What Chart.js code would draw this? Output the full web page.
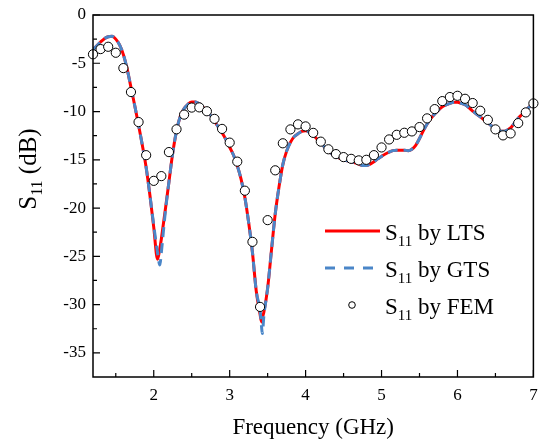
<!DOCTYPE html>
<html><head><meta charset="utf-8">
<script src="https://cdn.jsdelivr.net/npm/chart.js@4"></script>
<style>html,body{margin:0;padding:0;background:#fff}</style>
</head><body>
<canvas id="c" width="539" height="442" style="display:block;width:539px;height:442px"></canvas>
<script>
// ---- data ----
const lineFreq = [1.2,1.25,1.3,1.35,1.4,1.45,1.5,1.55,1.6,1.65,
 1.7,1.75,1.8,1.85,1.9,1.95,2.0,2.05,2.08,2.1,
 2.15,2.2,2.25,2.3,2.35,2.4,2.45,2.5,2.55,2.6,
 2.65,2.7,2.75,2.8,2.85,2.9,2.95,3.0,3.05,3.1,
 3.15,3.2,3.25,3.3,3.35,3.4,3.42,3.43,3.45,3.5,
 3.55,3.6,3.65,3.7,3.75,3.8,3.85,3.9,3.95,4.0,
 4.05,4.1,4.15,4.2,4.25,4.3,4.35,4.4,4.45,4.5,
 4.55,4.6,4.65,4.7,4.75,4.8,4.85,4.9,4.95,5.0,
 5.05,5.1,5.15,5.2,5.25,5.3,5.35,5.4,5.45,5.5,
 5.55,5.6,5.65,5.7,5.75,5.8,5.85,5.9,5.95,6.0,
 6.05,6.1,6.15,6.2,6.25,6.3,6.35,6.4,6.45,6.5,
 6.55,6.6,6.65,6.7,6.75,6.8,6.85,6.9,6.95,7.0];
const ltsS11 = [-3.6,-3.2,-2.8,-2.45,-2.25,-2.2,-2.5,-3.1,-4.1,-5.6,
 -7.5,-9.4,-11.4,-13.5,-15.8,-18.7,-22.0,-25.3,-24.2,-23.2,
 -20.3,-17.3,-14.3,-12.0,-10.5,-9.7,-9.25,-9.0,-9.0,-9.2,
 -9.55,-10.0,-10.4,-11.0,-11.6,-12.2,-12.9,-13.7,-14.5,-15.6,
 -17.0,-18.9,-21.5,-24.6,-28.6,-31.0,-31.8,-31.4,-30.8,-28.3,
 -24.4,-20.6,-17.8,-15.5,-14.1,-13.2,-12.6,-12.3,-12.05,-12.0,
 -12.15,-12.45,-12.85,-13.2,-13.7,-14.1,-14.4,-14.65,-14.85,-15.0,
 -15.1,-15.2,-15.3,-15.45,-15.6,-15.6,-15.45,-15.2,-14.9,-14.65,
 -14.4,-14.2,-14.05,-14.0,-14.0,-14.0,-14.05,-13.9,-13.5,-12.8,
 -12.0,-11.3,-10.7,-10.25,-9.85,-9.5,-9.3,-9.15,-9.05,-9.05,
 -9.15,-9.3,-9.6,-9.95,-10.25,-10.55,-10.85,-11.15,-11.5,-11.8,
 -12.0,-12.05,-11.95,-11.7,-11.2,-10.7,-10.3,-9.9,-9.5,-9.2];
const gtsS11 = [-3.6,-3.2,-2.8,-2.45,-2.25,-2.2,-2.5,-3.1,-4.1,-5.6,
 -7.5,-9.4,-11.4,-13.5,-15.8,-18.7,-21.8,-24.6,-25.9,-24.6,
 -20.6,-17.3,-14.3,-12.0,-10.5,-9.7,-9.25,-9.0,-9.0,-9.2,
 -9.55,-10.0,-10.4,-11.0,-11.6,-12.2,-12.9,-13.7,-14.5,-15.6,
 -17.0,-18.9,-21.5,-24.6,-28.6,-30.6,-32.3,-33.0,-31.2,-28.3,
 -24.4,-20.6,-17.8,-15.5,-14.1,-13.2,-12.6,-12.3,-12.05,-12.0,
 -12.15,-12.45,-12.85,-13.2,-13.7,-14.1,-14.4,-14.65,-14.85,-15.0,
 -15.1,-15.2,-15.3,-15.45,-15.6,-15.6,-15.45,-15.2,-14.9,-14.65,
 -14.4,-14.2,-14.05,-14.0,-14.0,-14.0,-14.05,-13.9,-13.5,-12.8,
 -12.0,-11.3,-10.7,-10.25,-9.85,-9.5,-9.3,-9.15,-9.05,-9.05,
 -9.15,-9.3,-9.6,-9.95,-10.25,-10.55,-10.85,-11.15,-11.5,-11.8,
 -12.0,-12.05,-11.95,-11.7,-11.2,-10.7,-10.3,-9.9,-9.5,-9.2];
const femFreq = [1.2,1.3,1.4,1.5,1.6,1.7,1.8,1.9,2.0,2.1,
 2.2,2.3,2.4,2.5,2.6,2.7,2.8,2.9,3.0,3.1,
 3.2,3.3,3.4,3.5,3.6,3.7,3.8,3.9,4.0,4.1,
 4.2,4.3,4.4,4.5,4.6,4.7,4.8,4.9,5.0,5.1,
 5.2,5.3,5.4,5.5,5.6,5.7,5.8,5.9,6.0,6.1,
 6.2,6.3,6.4,6.5,6.6,6.7,6.8,6.9,7.0];
const femS11 = [-4.07,-3.53,-3.29,-3.91,-5.50,-7.98,-11.09,-14.52,-17.18,-16.69,
 -14.20,-11.84,-10.32,-9.59,-9.57,-9.97,-10.76,-11.80,-13.22,-15.19,
 -18.20,-23.50,-30.24,-21.25,-16.09,-13.29,-11.85,-11.33,-11.54,-12.21,
 -13.12,-13.91,-14.41,-14.72,-14.90,-15.06,-15.00,-14.52,-13.72,-12.89,
 -12.41,-12.20,-12.06,-11.61,-10.71,-9.75,-8.92,-8.50,-8.37,-8.68,
 -9.12,-9.92,-10.86,-11.85,-12.47,-12.27,-11.20,-10.09,-9.16];
const xTickValues = [2,3,4,5,6,7];
const xMinorValues = [1.5,2.5,3.5,4.5,5.5,6.5];
const yTickValues = [0,-5,-10,-15,-20,-25,-30,-35];
const yMinorValues = [-2.5,-7.5,-12.5,-17.5,-22.5,-27.5,-32.5];
const seriesNames = ['by LTS','by GTS','by FEM'];
const xTitle = 'Frequency (GHz)';

const FONT = "'Liberation Serif','Times New Roman',serif";
const RED = '#ff0000', BLUE = '#4a86c8';

const deco = {
  id: 'deco',
  afterDraw(chart) {
    const ctx = chart.ctx, ca = chart.chartArea;
    const xs = chart.scales.x, ys = chart.scales.y;
    ctx.save();
    ctx.strokeStyle = '#000';
    ctx.lineWidth = 1.5;
    ctx.strokeRect(ca.left, ca.top, ca.right - ca.left, ca.bottom - ca.top);
    ctx.lineWidth = 1.2;
    ctx.beginPath();
    xTickValues.forEach(v => { const p = xs.getPixelForValue(v); ctx.moveTo(p, ca.bottom); ctx.lineTo(p, ca.bottom - 7); });
    xMinorValues.forEach(v => { const p = xs.getPixelForValue(v); ctx.moveTo(p, ca.bottom); ctx.lineTo(p, ca.bottom - 4); });
    yTickValues.forEach(v => { const p = ys.getPixelForValue(v); ctx.moveTo(ca.left, p); ctx.lineTo(ca.left + 7, p); });
    yMinorValues.forEach(v => { const p = ys.getPixelForValue(v); ctx.moveTo(ca.left, p); ctx.lineTo(ca.left + 4, p); });
    ctx.stroke();

    // x title
    ctx.fillStyle = '#000';
    ctx.font = '23px ' + FONT;
    ctx.textAlign = 'center';
    ctx.textBaseline = 'alphabetic';
    ctx.fillText(xTitle, (ca.left + ca.right) / 2, 434);

    // S11 text with subscript
    function drawS11(x, y, big, small, rest) {
      ctx.textAlign = 'left';
      ctx.font = big + 'px ' + FONT;
      ctx.fillText('S', x, y);
      const w1 = ctx.measureText('S').width;
      ctx.font = small + 'px ' + FONT;
      ctx.fillText('11', x + w1, y + small * 0.4);
      const w2 = ctx.measureText('11').width;
      ctx.font = big + 'px ' + FONT;
      ctx.fillText(rest, x + w1 + w2, y);
      return w1 + w2 + ctx.measureText(rest).width;
    }
    ctx.save();
    ctx.translate(36, 169);
    ctx.rotate(-Math.PI / 2);
    ctx.font = '25px ' + FONT;
    const ws = ctx.measureText('S').width + ctx.measureText(' (dB)').width;
    ctx.font = '16px ' + FONT;
    const wt = ws + ctx.measureText('11').width;
    drawS11(-wt / 2, 0, 25, 16, ' (dB)');
    ctx.restore();

    // legend
    const rows = [231, 268, 305];
    ctx.lineWidth = 3;
    ctx.strokeStyle = RED;
    ctx.beginPath(); ctx.moveTo(325, rows[0]); ctx.lineTo(380, rows[0]); ctx.stroke();
    ctx.strokeStyle = BLUE;
    ctx.setLineDash([10, 9]);
    ctx.beginPath(); ctx.moveTo(325, rows[1]); ctx.lineTo(381, rows[1]); ctx.stroke();
    ctx.setLineDash([]);
    ctx.lineWidth = 1;
    ctx.strokeStyle = '#000';
    ctx.fillStyle = '#fff';
    ctx.beginPath(); ctx.arc(352, rows[2], 3.3, 0, Math.PI * 2); ctx.fill(); ctx.stroke();
    ctx.fillStyle = '#000';
    rows.forEach((r, i) => drawS11(385, r + 9, 23, 15, ' ' + seriesNames[i]));
    ctx.restore();
  }
};

new Chart(document.getElementById('c'), {
  type: 'line',
  data: {
    datasets: [
      { label: 'S11 by FEM', data: femFreq.map((x, i) => ({ x, y: femS11[i] })), showLine: false,
        pointRadius: 4.6, pointBackgroundColor: '#fff', pointBorderColor: '#000', pointBorderWidth: 1,
        order: 0, clip: false },
      { label: 'S11 by GTS', data: lineFreq.map((x, i) => ({ x, y: gtsS11[i] })), borderColor: BLUE,
        borderWidth: 3, borderDash: [10, 6], pointRadius: 0, cubicInterpolationMode: 'monotone', fill: false, order: 1 },
      { label: 'S11 by LTS', data: lineFreq.map((x, i) => ({ x, y: ltsS11[i] })), borderColor: RED,
        borderWidth: 3, pointRadius: 0, cubicInterpolationMode: 'monotone', fill: false, order: 2 }
    ]
  },
  options: {
    responsive: false, animation: false, devicePixelRatio: 1,
    layout: { padding: { left: 0, right: 4, top: 15, bottom: 0 } },
    plugins: { legend: { display: false }, tooltip: { enabled: false } },
    scales: {
      x: { type: 'linear', min: 1.2, max: 7,
        grid: { display: false, drawTicks: false }, border: { display: false },
        afterBuildTicks(s) { s.ticks = xTickValues.map(v => ({ value: v })); },
        afterFit(s) { s.height = 65; s.paddingRight = 0; s.paddingLeft = 0; },
        ticks: { padding: 8, color: '#000', maxRotation: 0, autoSkip: false, font: { family: FONT, size: 17 } } },
      y: { type: 'linear', min: -37.5, max: 0,
        grid: { display: false, drawTicks: false }, border: { display: false },
        afterBuildTicks(s) { s.ticks = yTickValues.map(v => ({ value: v })); },
        afterFit(s) { s.width = 93; s.paddingTop = 0; s.paddingBottom = 0; },
        ticks: { padding: 7, color: '#000', autoSkip: false, font: { family: FONT, size: 17 } } }
    }
  },
  plugins: [deco]
});
</script>
</body></html>
